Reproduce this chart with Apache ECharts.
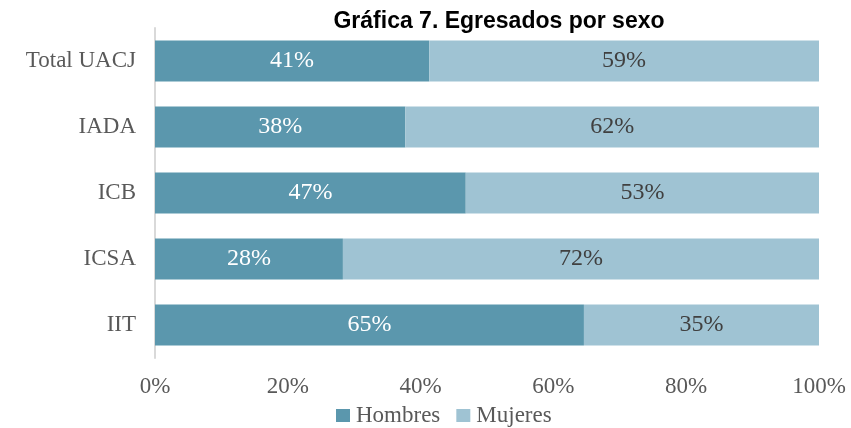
<!DOCTYPE html>
<html>
<head>
<meta charset="UTF-8">
<title>Egresados por sexo</title>
<script src="https://cdn.jsdelivr.net/npm/echarts@6/dist/echarts.min.js"></script>
<style>
  html, body { margin: 0; padding: 0; background: #fff; }
  #chart { width: 851px; height: 428px; }
</style>
</head>
<body>
<div id="chart"></div>
<script>
// datos
var categorias = ['IIT', 'ICSA', 'ICB', 'IADA', 'Total UACJ'];
var hombres = [64.6, 28.3, 46.8, 37.7, 41.3];
var mujeres = [35.4, 71.7, 53.2, 62.3, 58.7];
var ticksX = [0, 20, 40, 60, 80, 100];

var serif = '"Liberation Serif", "DejaVu Serif", serif';
var chart = echarts.init(document.getElementById('chart'));

function etiqueta(color) {
  return {
    show: true,
    position: 'inside',
    color: color,
    fontFamily: serif,
    fontSize: 24,
    formatter: function (p) { return Math.round(p.value) + '%'; }
  };
}

chart.setOption({
  animation: false,
  title: {
    text: 'Gráfica 7. Egresados por sexo',
    left: 494,
    textAlign: 'center',
    top: 5,
    textStyle: { fontFamily: '"Liberation Sans", Arial, sans-serif', fontWeight: 'bold', fontSize: 23, color: '#000' }
  },
  legend: {
    left: 331,
    top: 399,
    itemWidth: 14,
    itemHeight: 13,
    itemGap: 16,
    icon: 'rect',
    textStyle: { fontFamily: serif, fontSize: 23, color: '#595959', padding: [0, 0, 0, 1] },
    data: ['Hombres', 'Mujeres']
  },
  grid: { left: 155, right: 32, top: 28, bottom: 70 },
  xAxis: {
    type: 'value',
    min: 0,
    max: 100,
    interval: 20,
    axisLine: { show: false },
    axisTick: { show: false },
    splitLine: { show: false },
    axisLabel: {
      margin: 17,
      fontFamily: serif,
      fontSize: 23,
      color: '#595959',
      formatter: function (v) { return ticksX.indexOf(v) >= 0 ? v + '%' : ''; }
    }
  },
  yAxis: {
    type: 'category',
    data: categorias,
    axisLine: { show: true, lineStyle: { color: '#d9d9d9', width: 2 } },
    axisTick: { show: false },
    axisLabel: { margin: 19, fontFamily: serif, fontSize: 23, color: '#595959' }
  },
  series: [
    {
      name: 'Hombres',
      type: 'bar',
      stack: 'total',
      barWidth: 41,
      data: hombres,
      itemStyle: { color: '#5b97ad' },
      label: etiqueta('#ffffff')
    },
    {
      name: 'Mujeres',
      type: 'bar',
      stack: 'total',
      barWidth: 41,
      data: mujeres,
      itemStyle: { color: '#9fc3d3' },
      label: etiqueta('#404040')
    }
  ]
});
</script>
</body>
</html>
